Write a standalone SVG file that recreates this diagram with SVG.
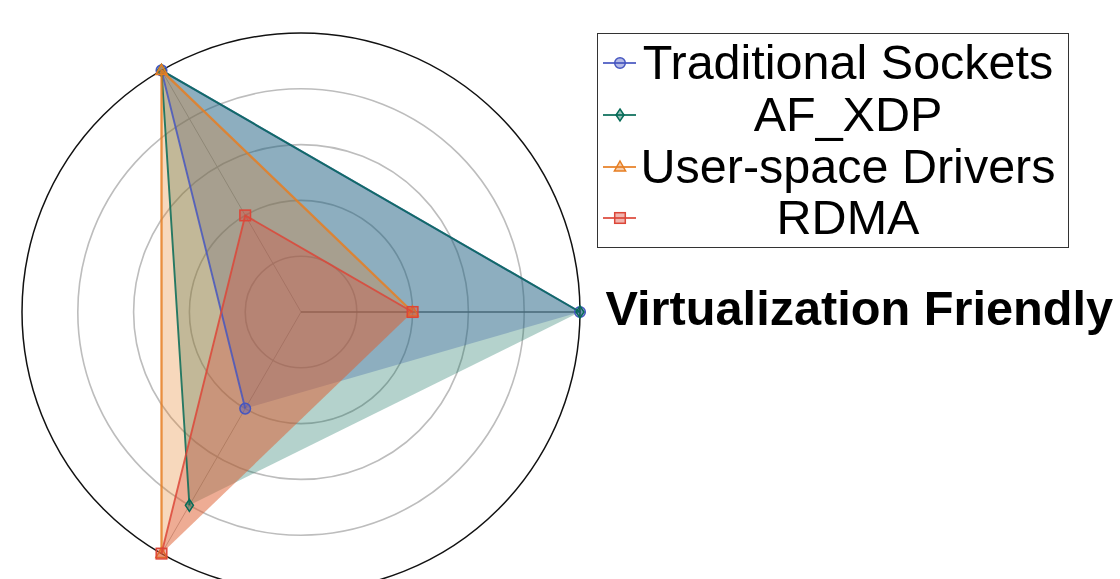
<svg xmlns="http://www.w3.org/2000/svg" xmlns:xlink="http://www.w3.org/1999/xlink" width="1120" height="579" viewBox="0 0 1120 579">
<style>
.grid{fill:none;stroke:#bdbdbd;stroke-width:1.6}
.spoke{stroke:#b8b8b8;stroke-width:1}
.ln{fill:none;stroke-width:1.9;stroke-linejoin:round;stroke-opacity:0.85}
.ts{stroke:#4656c0;fill:#4656c0}
.af{stroke:#066b57;fill:#066b57}
.us{stroke:#e67e22;fill:#e67e22}
.rd{stroke:#dc4638;fill:#dc4638}
polygon.area{stroke:none;fill-opacity:0.3}
use.mk{stroke-width:1.5;fill-opacity:0.4}
polyline.ln,line.ln{fill:none}
.lt{font-family:"Liberation Sans",Arial,sans-serif;font-size:48.5px;fill:#000;stroke:none;text-anchor:middle}
.ax{font-family:"Liberation Sans",Arial,sans-serif;font-size:48.7px;font-weight:bold;fill:#000}
</style>
<defs>
<circle id="m-o" r="5.3"/>
<path id="m-d" d="M0,-6 L4,0 L0,6 L-4,0 Z"/>
<path id="m-t" d="M0,-6 L5.6,4 L-5.6,4 Z"/>
<rect id="m-s" x="-5.3" y="-5.3" width="10.6" height="10.6"/>
</defs>
<rect width="1120" height="579" fill="#fff"/>
<g id="grid">
<circle class="grid" cx="301" cy="312" r="55.8"/>
<circle class="grid" cx="301" cy="312" r="111.6"/>
<circle class="grid" cx="301" cy="312" r="167.4"/>
<circle class="grid" cx="301" cy="312" r="223.2"/>
<line class="spoke" x1="301" y1="312" x2="161.5" y2="70.4"/>
<line class="spoke" x1="301" y1="312" x2="161.5" y2="553.6"/>
<line x1="301" y1="312" x2="580" y2="312" stroke="#6e6e6e" stroke-width="1.6"/>
</g>
<g id="fills">
<polygon class="area ts" style="fill-opacity:0.3;stroke:none" points="580,312 161.5,70.4 245.2,408.6"/>
<polygon class="area af" style="fill-opacity:0.3;stroke:none" points="580,312 161.5,70.4 189.4,505.3"/>
<polygon class="area us" style="fill-opacity:0.3;stroke:none" points="412.6,312 161.5,70.4 161.5,553.6"/>
<polygon class="area rd" style="fill-opacity:0.3;stroke:none" points="412.6,312 245.2,215.4 161.5,553.6"/>
</g>
<circle id="spine" cx="301" cy="312" r="279" fill="none" stroke="#111" stroke-width="1.5"/>
<g id="connectors">
<g id="series-ts">
<polyline class="ln ts" style="fill:none" points="580,312 161.5,70.4 245.2,408.6"/>
<use xlink:href="#m-o" class="mk ts" x="580" y="312"/>
<use xlink:href="#m-o" class="mk ts" x="161.5" y="70.4"/>
<use xlink:href="#m-o" class="mk ts" x="245.2" y="408.6"/>
</g>
<g id="series-af">
<polyline class="ln af" style="fill:none" points="580,312 161.5,70.4 189.4,505.3"/>
<use xlink:href="#m-d" class="mk af" x="580" y="312"/>
<use xlink:href="#m-d" class="mk af" x="161.5" y="70.4"/>
<use xlink:href="#m-d" class="mk af" x="189.4" y="505.3"/>
</g>
<g id="series-us">
<polyline class="ln us" style="fill:none;stroke-width:2.3" points="412.6,312 161.5,70.4 161.5,553.6"/>
<use xlink:href="#m-t" class="mk us" x="412.6" y="312"/>
<use xlink:href="#m-t" class="mk us" x="161.5" y="70.4"/>
<use xlink:href="#m-t" class="mk us" x="161.5" y="553.6"/>
</g>
<g id="series-rd">
<polyline class="ln rd" style="fill:none" points="412.6,312 245.2,215.4 161.5,553.6"/>
<use xlink:href="#m-s" class="mk rd" x="412.6" y="312"/>
<use xlink:href="#m-s" class="mk rd" x="245.2" y="215.4"/>
<use xlink:href="#m-s" class="mk rd" x="161.5" y="553.6"/>
</g>
</g>
<g id="axis-label">
<text class="ax" x="605.5" y="325">Virtualization Friendly</text>
</g>
<g id="legend">
<rect x="597.5" y="33.5" width="471" height="214" fill="#fff" stroke="#333" stroke-width="1"/>
<g id="legend-ts">
<line class="ln ts" x1="603" y1="63" x2="636" y2="63"/>
<use xlink:href="#m-o" class="mk ts" x="620" y="63"/>
<text class="lt" x="848" y="79">Traditional Sockets</text>
</g>
<g id="legend-af">
<line class="ln af" x1="603" y1="115" x2="636" y2="115"/>
<use xlink:href="#m-d" class="mk af" x="620" y="115"/>
<text class="lt" x="848" y="131">AF_XDP</text>
</g>
<g id="legend-us">
<line class="ln us" x1="603" y1="167" x2="636" y2="167"/>
<use xlink:href="#m-t" class="mk us" x="620" y="167"/>
<text class="lt" x="848" y="183">User-space Drivers</text>
</g>
<g id="legend-rd">
<line class="ln rd" x1="603" y1="218" x2="636" y2="218"/>
<use xlink:href="#m-s" class="mk rd" x="620" y="218"/>
<text class="lt" x="848" y="234">RDMA</text>
</g>
</g>
</svg>
